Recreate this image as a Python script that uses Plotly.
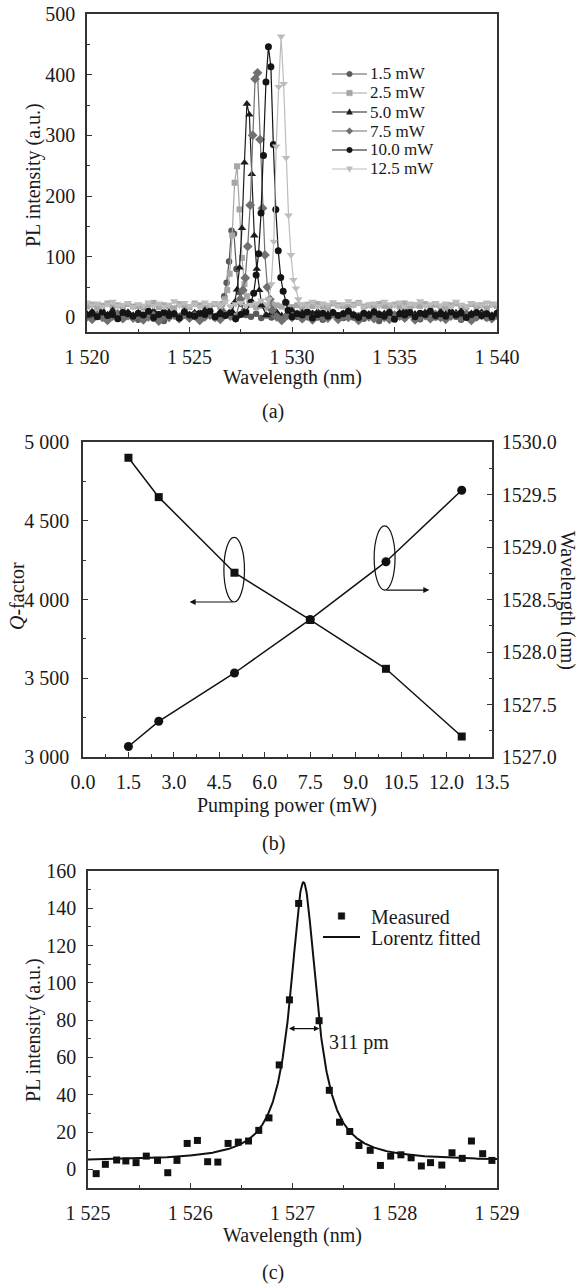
import plotly.graph_objects as go
import numpy as np

W, H = 581, 1284
FONT = "Liberation Serif"

# ---------------- Panel (a): PL spectra at several pump powers ----------------
wl_base = [1520.0, 1520.25, 1520.5, 1520.75, 1521.0, 1521.25, 1521.5, 1521.75, 1522.0, 1522.25,
           1522.5, 1522.75, 1523.0, 1523.25, 1523.5, 1523.75, 1524.0, 1524.25, 1524.5, 1524.75,
           1525.0, 1525.25, 1525.5, 1525.75, 1526.0, 1526.25, 1526.5, 1526.75, 1527.0, 1527.25,
           1527.5, 1527.75, 1528.0, 1528.25, 1528.5, 1528.75, 1529.0, 1529.25, 1529.5, 1529.75,
           1530.0, 1530.25, 1530.5, 1530.75, 1531.0, 1531.25, 1531.5, 1531.75, 1532.0, 1532.25,
           1532.5, 1532.75, 1533.0, 1533.25, 1533.5, 1533.75, 1534.0, 1534.25, 1534.5, 1534.75,
           1535.0, 1535.25, 1535.5, 1535.75, 1536.0, 1536.25, 1536.5, 1536.75, 1537.0, 1537.25,
           1537.5, 1537.75, 1538.0, 1538.25, 1538.5, 1538.75, 1539.0, 1539.25, 1539.5, 1539.75,
           1540.0]

base_15 = [3, -2, 4, 1, -3, 5, 2, -1, 6, 0, -4, 3, 2, -2, 5, -6, 1, 4, -1, 3,
           0, 6, -3, 2, 4, -1, 3, 5, 0, 2, -2, 4, 1, 6, -1, 3, 0, 5, -3, 2,
           4, 1, -2, 3, 6, 0, -4, 2, 5, 1, -1, 4, 0, 3, -2, 5, 2, -6, 1, 4,
           0, 3, -1, 5, 2, -3, 4, 1, 0, 6, -2, 3, 1, -4, 4, 2, 0, 5, -1, 3, 2]
base_25 = [18, 21, 16, 19, 23, 17, 20, 15, 22, 18, 19, 16, 21, 24, 17, 20, 18, 15, 22, 19,
           17, 23, 20, 16, 19, 22, 18, 21, 15, 20, 24, 18, 21, 17, 19, 16, 22, 20, 18, 23,
           17, 20, 15, 21, 19, 22, 18, 16, 23, 20, 19, 17, 21, 24, 18, 20, 16, 22, 19, 17,
           21, 18, 23, 15, 20, 19, 22, 17, 21, 18, 16, 20, 23, 19, 17, 22, 18, 20, 15, 21, 19]
base_50 = [6, 10, 3, 8, 5, 12, 2, 7, 9, 4, 8, 1, 6, 11, 5, 3, 9, 7, 2, 10,
           5, 8, 4, 12, 6, 1, 9, 5, 7, 3, 10, 6, 2, 8, 11, 4, 7, 9, 3, 6,
           12, 5, 8, 2, 7, 10, 4, 6, 9, 3, 7, 11, 5, 1, 8, 6, 10, 4, 7, 9,
           3, 8, 12, 5, 6, 2, 9, 7, 4, 10, 6, 3, 8, 11, 5, 7, 2, 9, 6, 4, 8]
base_75 = [1, -3, 4, 0, -5, 2, 6, -2, 3, -1, 5, -4, 1, 3, -6, 2, 0, 4, -2, 6,
           -1, 3, -5, 1, 4, 0, -3, 5, 2, -1, 3, -4, 6, 0, 2, -2, 4, 1, -5, 3,
           0, 5, -2, 2, -4, 4, 1, -1, 6, -3, 2, 0, 4, -5, 3, 1, -2, 5, 0, -3,
           4, 2, -1, 6, -4, 1, 3, -2, 5, 0, -3, 2, 4, -1, 6, -5, 1, 3, 0, -2, 4]
base_100 = [4, 7, 1, 9, 3, 5, -2, 8, 6, 2, 7, 4, 10, 0, 5, 8, 3, 6, -1, 9,
            4, 2, 7, 5, 10, 1, 6, 3, 8, -2, 5, 9, 2, 6, 4, 8, 0, 7, 3, 10,
            1, 6, 4, 9, -1, 5, 7, 2, 8, 3, 6, 10, 4, 0, 7, 3, 9, 5, 2, 8,
            -3, 6, 4, 8, 1, 7, 5, 10, 3, 6, 2, 9, 4, 7, 0, 5, 8, 3, 6, 1, 7]
base_125 = [25, 20, 23, 18, 22, 26, 19, 21, 24, 17, 22, 20, 25, 19, 23, 18, 21, 27, 20, 24,
            19, 22, 17, 25, 21, 23, 20, 26, 18, 22, 24, 19, 21, 23, 28, 20, 22, 18, 25, 21,
            19, 24, 22, 20, 26, 18, 23, 21, 25, 19, 22, 27, 20, 24, 18, 21, 23, 19, 26, 22,
            20, 25, 18, 23, 21, 27, 19, 22, 24, 20, 23, 18, 26, 21, 19, 24, 22, 20, 25, 21, 23]

peak_x_15 = [1526.45, 1526.57, 1526.69, 1526.81, 1526.93, 1527.05, 1527.17, 1527.29, 1527.41, 1527.53, 1527.65]
peak_y_15 = [5, 12, 35, 57, 92, 143, 138, 80, 42, 22, 10]
peak_x_25 = [1526.6, 1526.72, 1526.84, 1526.96, 1527.08, 1527.2, 1527.32, 1527.44, 1527.56, 1527.68, 1527.8, 1527.92]
peak_y_25 = [22, 30, 45, 72, 135, 222, 249, 178, 98, 55, 35, 25]
peak_x_50 = [1527.08, 1527.2, 1527.32, 1527.44, 1527.56, 1527.68, 1527.8, 1527.92, 1528.04, 1528.16, 1528.28, 1528.4, 1528.52]
peak_y_50 = [10, 25, 46, 82, 147, 255, 352, 334, 236, 135, 80, 45, 20]
peak_x_75 = [1527.48, 1527.6, 1527.72, 1527.84, 1527.96, 1528.08, 1528.2, 1528.32, 1528.44, 1528.56, 1528.68, 1528.8, 1528.92, 1529.04]
peak_y_75 = [30, 45, 65, 117, 185, 300, 393, 403, 293, 180, 103, 50, 30, 12]
peak_x_100 = [1528.0, 1528.13, 1528.25, 1528.37, 1528.49, 1528.61, 1528.73, 1528.85, 1528.97, 1529.09, 1529.21, 1529.33, 1529.45, 1529.57, 1529.69, 1529.81]
peak_y_100 = [25, 40, 70, 105, 172, 267, 388, 446, 413, 285, 178, 110, 66, 43, 25, 12]
peak_x_125 = [1528.75, 1528.87, 1528.99, 1529.11, 1529.23, 1529.35, 1529.47, 1529.59, 1529.71, 1529.83, 1529.95, 1530.07, 1530.19, 1530.31, 1530.43]
peak_y_125 = [22, 30, 55, 125, 282, 380, 463, 385, 263, 168, 103, 62, 48, 30, 22]

a_labels = ["1.5 mW", "2.5 mW", "5.0 mW", "7.5 mW", "10.0 mW", "12.5 mW"]
a_x_tickvals = [1520, 1525, 1530, 1535, 1540]
a_x_ticktext = ["1 520", "1 525", "1 530", "1 535", "1 540"]
a_y_tickvals = [0, 100, 200, 300, 400, 500]
a_y_ticktext = ["0", "100", "200", "300", "400", "500"]

# ---------------- Panel (b): Q-factor and wavelength vs pump power ----------------
power = [1.5, 2.5, 5.0, 7.5, 10.0, 12.5]
q_factor = [4900, 4650, 4170, 3870, 3560, 3130]
peak_wl = [1527.10, 1527.34, 1527.80, 1528.31, 1528.86, 1529.54]
b_x_tickvals = [0, 1.5, 3, 4.5, 6, 7.5, 9, 10.5, 12, 13.5]
b_x_ticktext = ["0.0", "1.5", "3.0", "4.5", "6.0", "7.5", "9.0", "10.5", "12.0", "13.5"]
b_yl_tickvals = [3000, 3500, 4000, 4500, 5000]
b_yl_ticktext = ["3 000", "3 500", "4 000", "4 500", "5 000"]
b_yr_tickvals = [1527.0, 1527.5, 1528.0, 1528.5, 1529.0, 1529.5, 1530.0]
b_yr_ticktext = ["1527.0", "1527.5", "1528.0", "1528.5", "1529.0", "1529.5", "1530.0"]

# ---------------- Panel (c): measured line shape and Lorentz fit ----------------
meas_x = [1525.08, 1525.17, 1525.28, 1525.37, 1525.47, 1525.57, 1525.68, 1525.78, 1525.87, 1525.97,
          1526.07, 1526.17, 1526.27, 1526.37, 1526.47, 1526.57, 1526.67, 1526.77, 1526.87, 1526.97,
          1527.06, 1527.26, 1527.36, 1527.46, 1527.56, 1527.65, 1527.76, 1527.86, 1527.96, 1528.06,
          1528.16, 1528.26, 1528.35, 1528.46, 1528.56, 1528.66, 1528.75, 1528.86, 1528.95]
meas_y = [-2.3, 2.7, 5.0, 4.5, 3.6, 7.1, 4.8, -1.8, 4.8, 13.9,
          15.5, 4.1, 3.9, 13.9, 14.6, 15.2, 20.9, 27.6, 56.0, 90.9,
          142.6, 79.7, 42.4, 25.3, 20.3, 12.8, 10.2, 2.1, 7.1, 7.8,
          6.2, 1.8, 3.6, 2.3, 8.9, 5.9, 15.2, 8.4, 4.8]
# Lorentz fit parameters
fit_y0 = 4.5        # baseline
fit_peak = 154.0    # peak value
fit_xc = 1527.107   # centre (nm)
fit_fwhm = 0.311    # FWHM (nm)
c_x_tickvals = [1525, 1526, 1527, 1528, 1529]
c_x_ticktext = ["1 525", "1 526", "1 527", "1 528", "1 529"]
c_y_tickvals = [0, 20, 40, 60, 80, 100, 120, 140, 160]
c_y_ticktext = ["0", "20", "40", "60", "80", "100", "120", "140", "160"]

# ======================================================================
def PX(x):
    return x / W


def PY(y):
    return 1 - y / H


def merge(base_y, pk_x, pk_y):
    lo, hi = min(pk_x) - 0.06, max(pk_x) + 0.06
    pts = [(x, y) for x, y in zip(wl_base, base_y) if not (lo <= x <= hi)]
    pts += list(zip(pk_x, pk_y))
    pts.sort()
    return [p[0] for p in pts], [p[1] for p in pts]


a_series = [(base_15, peak_x_15, peak_y_15), (base_25, peak_x_25, peak_y_25),
            (base_50, peak_x_50, peak_y_50), (base_75, peak_x_75, peak_y_75),
            (base_100, peak_x_100, peak_y_100), (base_125, peak_x_125, peak_y_125)]
a_colors = ["#5a5a5a", "#a6a6a6", "#1c1c1c", "#707070", "#141414", "#bcbcbc"]
a_symbols = ["circle", "square", "triangle-up", "diamond", "circle", "triangle-down"]
a_sizes = [6.5, 6, 7.5, 7.5, 7, 7.5]

fig = go.Figure()

for (by, pkx, pky), col, sym, sz in zip(a_series, a_colors, a_symbols, a_sizes):
    xs, ys = merge(by, pkx, pky)
    fig.add_trace(go.Scatter(x=xs, y=ys, mode="lines+markers",
                             line=dict(color=col, width=1.2),
                             marker=dict(symbol=sym, size=sz, color=col),
                             xaxis="x", yaxis="y", showlegend=False))

fig.add_trace(go.Scatter(x=power, y=q_factor, mode="lines+markers",
                         line=dict(color="#111", width=1.5),
                         marker=dict(symbol="square", size=8, color="#111"),
                         xaxis="x2", yaxis="y2", showlegend=False))
fig.add_trace(go.Scatter(x=power, y=peak_wl, mode="lines+markers",
                         line=dict(color="#111", width=1.5),
                         marker=dict(symbol="circle", size=9, color="#111"),
                         xaxis="x2", yaxis="y3", showlegend=False))

fit_x = np.linspace(1525.0, 1529.0, 801)
hw = fit_fwhm / 2
fit_y = fit_y0 + (fit_peak - fit_y0) * hw ** 2 / ((fit_x - fit_xc) ** 2 + hw ** 2)
fig.add_trace(go.Scatter(x=fit_x, y=fit_y, mode="lines",
                         line=dict(color="#111", width=2),
                         xaxis="x3", yaxis="y4", showlegend=False))
fig.add_trace(go.Scatter(x=meas_x, y=meas_y, mode="markers",
                         marker=dict(symbol="square", size=7, color="#111"),
                         xaxis="x3", yaxis="y4", showlegend=False))

LC = "#333"
TF = dict(family=FONT, size=20, color="#1a1a1a")


def ax(**kw):
    d = dict(showline=True, linecolor=LC, linewidth=1.5, ticks="inside", ticklen=5,
             tickwidth=1.2, tickcolor=LC, showgrid=False, zeroline=False,
             tickfont=TF, tickmode="array", fixedrange=True, automargin=False)
    d.update(kw)
    return d


def minor(t0, dt):
    return dict(ticks="inside", ticklen=3, tickwidth=1, tickcolor=LC,
                tickmode="linear", tick0=t0, dtick=dt, showgrid=False)


fig.update_layout(
    width=W, height=H, margin=dict(l=0, r=0, t=0, b=0, autoexpand=False),
    paper_bgcolor="white", plot_bgcolor="white", showlegend=False,
    font=dict(family=FONT, color="#1a1a1a"),
    xaxis=ax(domain=[PX(87), PX(497)], anchor="y", range=[1520, 1540],
             tickvals=a_x_tickvals, ticktext=a_x_ticktext, mirror=True,
             minor=minor(1520, 2.5), ticklabelstandoff=6),
    yaxis=ax(domain=[PY(332), PY(14)], anchor="x", range=[-24, 500],
             tickvals=a_y_tickvals, ticktext=a_y_ticktext, mirror=True,
             minor=minor(0, 50), ticklabelstandoff=6),
    xaxis2=ax(domain=[PX(83), PX(492)], anchor="y2", range=[0, 13.5],
              tickvals=b_x_tickvals, ticktext=b_x_ticktext, mirror=True,
              minor=minor(0, 0.75), ticklabelstandoff=6),
    yaxis2=ax(domain=[PY(757), PY(442)], anchor="x2", range=[3000, 5000],
              tickvals=b_yl_tickvals, ticktext=b_yl_ticktext,
              minor=minor(3000, 250), ticklabelstandoff=8),
    yaxis3=ax(anchor="x2", overlaying="y2", side="right", range=[1527, 1530],
              tickvals=b_yr_tickvals, ticktext=b_yr_ticktext,
              minor=minor(1527, 0.25), ticklabelstandoff=4),
    xaxis3=ax(domain=[PX(88), PX(497)], anchor="y4", range=[1525, 1529],
              tickvals=c_x_tickvals, ticktext=c_x_ticktext, mirror=True,
              minor=minor(1525, 0.5), ticklabelstandoff=6),
    yaxis4=ax(domain=[PY(1188), PY(871)], anchor="x3", range=[-10, 160],
              tickvals=c_y_tickvals, ticktext=c_y_ticktext, mirror=True,
              minor=minor(0, 10), ticklabelstandoff=6),
)

TXT = dict(family=FONT, size=20, color="#1a1a1a")
annotations = []
shapes = []


def label(text, x, y, angle=0, xanchor="center", size=20, height=None):
    d = dict(text=text, x=PX(x), y=PY(y), xref="paper", yref="paper",
             showarrow=False, textangle=angle, xanchor=xanchor,
             yanchor="middle", font=dict(family=FONT, size=size, color="#1a1a1a"))
    if height is not None:
        d["height"] = height
        d["valign"] = "middle"
        d["borderpad"] = 0
    annotations.append(d)


# axis titles & panel labels
label("PL intensity (a.u.)", 33, 175, -90)
label("Wavelength (nm)", 292, 377)
label("(a)", 273, 412)
label("<i>Q</i>-factor", 17, 596, -90)
label("Wavelength (nm)", 568, 600, 90)
label("Pumping power (mW)", 287, 805)
label("(b)", 273, 843)
label("PL intensity (a.u.)", 33, 1030, -90)
label("Wavelength (nm)", 292, 1235)
label("(c)", 273, 1272)


def marker_shape(sym, cx, cy, s, col):
    x0, x1 = PX(cx - s / 2), PX(cx + s / 2)
    y0, y1 = PY(cy + s / 2), PY(cy - s / 2)
    base = dict(xref="paper", yref="paper", fillcolor=col, line=dict(color=col, width=0.5))
    if sym == "circle":
        shapes.append(dict(type="circle", x0=x0, x1=x1, y0=y0, y1=y1, **base))
    elif sym == "square":
        shapes.append(dict(type="rect", x0=x0, x1=x1, y0=y0, y1=y1, **base))
    else:
        if sym == "triangle-up":
            pts = [(cx, cy - s * 0.6), (cx + s * 0.55, cy + s * 0.4), (cx - s * 0.55, cy + s * 0.4)]
        elif sym == "triangle-down":
            pts = [(cx, cy + s * 0.6), (cx + s * 0.55, cy - s * 0.4), (cx - s * 0.55, cy - s * 0.4)]
        else:
            pts = [(cx, cy - s * 0.6), (cx + s * 0.6, cy), (cx, cy + s * 0.6), (cx - s * 0.6, cy)]
        path = "M " + " L ".join(f"{PX(px_)} {PY(py_)}" for px_, py_ in pts) + " Z"
        shapes.append(dict(type="path", path=path, **base))


# legend of (a)
leg_rows = [74, 93, 112, 131, 150, 169]
for lab, col, sym, ry in zip(a_labels, a_colors, a_symbols, leg_rows):
    shapes.append(dict(type="line", xref="paper", yref="paper", x0=PX(332), x1=PX(367),
                       y0=PY(ry), y1=PY(ry), line=dict(color=col, width=1.2)))
    marker_shape(sym, 349.5, ry, 5.5, col)
    label(lab, 368, ry, xanchor="left", size=17)

# legend of (c)
marker_shape("square", 341.5, 916, 6.5, "#111")
label("Measured", 370, 916, xanchor="left", size=20, height=19)
shapes.append(dict(type="line", xref="paper", yref="paper", x0=PX(323), x1=PX(360),
                   y0=PY(937), y1=PY(937), line=dict(color="#111", width=2)))
label("Lorentz fitted", 370, 937, xanchor="left", size=20, height=19)

# (b) ellipses and arrows
shapes.append(dict(type="circle", xref="x2", yref="y2", x0=4.65, x1=5.33, y0=3984, y1=4395,
                   line=dict(color="#111", width=1.2)))
shapes.append(dict(type="circle", xref="x2", yref="y2", x0=9.61, x1=10.30, y0=4060, y1=4467,
                   line=dict(color="#111", width=1.2)))
annotations.append(dict(x=3.52, y=3984, ax=4.99, ay=3984, xref="x2", yref="y2",
                        axref="x2", ayref="y2", text="", showarrow=True, arrowhead=2,
                        arrowsize=1, arrowwidth=1.2, arrowcolor="#111"))
annotations.append(dict(x=11.43, y=4060, ax=9.96, ay=4060, xref="x2", yref="y2",
                        axref="x2", ayref="y2", text="", showarrow=True, arrowhead=2,
                        arrowsize=1, arrowwidth=1.2, arrowcolor="#111"))

# (c) FWHM arrow and label
annotations.append(dict(x=fit_xc + hw, y=75.5, ax=fit_xc - hw, ay=75.5, xref="x3", yref="y4",
                        axref="x3", ayref="y4", text="", showarrow=True, arrowhead=2,
                        arrowside="end+start", arrowsize=0.9, arrowwidth=1.2, arrowcolor="#111"))
annotations.append(dict(x=1527.334, y=67.8, xref="x3", yref="y4", text="311 pm",
                        showarrow=False, xanchor="left", yanchor="middle", font=TXT))

fig.update_layout(annotations=annotations, shapes=shapes)
fig.write_html("out.html", config={"displayModeBar": False},
               post_script="document.body.style.margin='0';document.body.style.overflow='hidden';")
